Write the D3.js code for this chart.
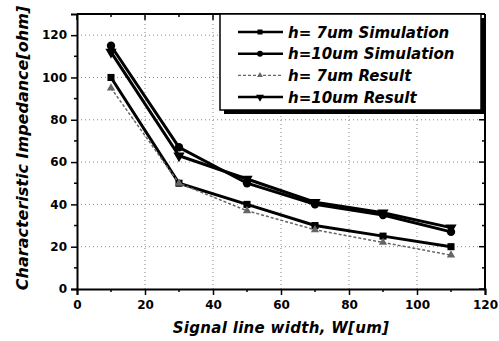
<!DOCTYPE html>
<html lang="en">
<head>
    <script src='https://d3js.org/d3.v7.min.js'></script>
    <style>
        body { margin: 0; background: #fff; }
        text { font-family: 'DejaVu Sans', sans-serif; font-weight: bold; }
    </style>
</head>
<body>
<script>
    // data
    var widths = [10, 30, 50, 70, 90, 110];
    var sim7 = [100, 50, 40, 30, 25, 20];
    var sim10 = [115, 67, 50, 40, 35, 27];
    var res7 = [95, 50, 37, 28, 22, 16];
    var res10 = [112, 63, 52, 41, 36, 29];
    var seriesNames = ['h= 7um Simulation', 'h=10um Simulation', 'h= 7um Result', 'h=10um Result'];
    var xTicks = [0, 20, 40, 60, 80, 100, 120];
    var yTicks = [0, 20, 40, 60, 80, 100, 120];

    var W = 499, H = 341;
    var m = {left: 77, right: 14, top: 14, bottom: 52};

    var svg = d3.select('body').append('svg').attr('width', W).attr('height', H);

    var x = d3.scaleLinear().domain([0, 120]).range([m.left, W - m.right]);
    var y = d3.scaleLinear().domain([0, 130]).range([H - m.bottom, m.top]);

    // dotted grid
    var grid = svg.append('g').attr('stroke', '#888').attr('stroke-width', 1).attr('stroke-dasharray', '1,3');
    grid.selectAll('.gx').data(xTicks.slice(1, -1)).join('line')
        .attr('x1', d => x(d)).attr('x2', d => x(d)).attr('y1', y(0)).attr('y2', y(130));
    grid.selectAll('.gy').data(yTicks.slice(1)).join('line')
        .attr('y1', d => y(d)).attr('y2', d => y(d)).attr('x1', x(0)).attr('x2', x(120));

    // axes
    var xAxis = d3.axisBottom(x).tickValues(xTicks).tickSize(6).tickPadding(5);
    var yAxis = d3.axisLeft(y).tickValues(yTicks).tickSize(6).tickPadding(4);
    var gx = svg.append('g').attr('transform', 'translate(0,' + y(0) + ')').call(xAxis);
    var gy = svg.append('g').attr('transform', 'translate(' + x(0) + ',0)').call(yAxis);
    [gx, gy].forEach(function(g) {
        g.select('.domain').attr('stroke-width', 2);
        g.selectAll('.tick line').attr('stroke-width', 1.5);
        g.selectAll('.tick text').style('font-size', '12px').attr('fill', '#000');
    });

    // minor ticks
    var xMinor = d3.range(10, 120, 20), yMinor = d3.range(10, 130, 20);
    svg.append('g').selectAll('line').data(xMinor).join('line')
        .attr('x1', d => x(d)).attr('x2', d => x(d)).attr('y1', y(0)).attr('y2', y(0) + 3)
        .attr('stroke', '#000').attr('stroke-width', 1.5);
    svg.append('g').selectAll('line').data(yMinor).join('line')
        .attr('y1', d => y(d)).attr('y2', d => y(d)).attr('x1', x(0) - 3).attr('x2', x(0))
        .attr('stroke', '#000').attr('stroke-width', 1.5);

    // top + right frame with inward ticks
    svg.append('line').attr('x1', x(0)).attr('x2', x(120)).attr('y1', y(130)).attr('y2', y(130))
        .attr('stroke', '#000').attr('stroke-width', 2);
    svg.append('line').attr('x1', x(120)).attr('x2', x(120)).attr('y1', y(130)).attr('y2', y(0))
        .attr('stroke', '#000').attr('stroke-width', 2);
    svg.append('g').selectAll('line').data(yTicks.concat(yMinor)).join('line')
        .attr('y1', d => y(d)).attr('y2', d => y(d))
        .attr('x1', d => x(120) - (d % 20 ? 3 : 6)).attr('x2', x(120))
        .attr('stroke', '#000').attr('stroke-width', 1.5);
    svg.append('g').selectAll('line').data(xTicks.concat(xMinor)).join('line')
        .attr('x1', d => x(d)).attr('x2', d => x(d))
        .attr('y1', y(130)).attr('y2', d => y(130) + (d % 20 ? 3 : 6))
        .attr('stroke', '#000').attr('stroke-width', 1.5);

    // series
    var series = [
        {name: seriesNames[0], vals: sim7, color: '#000', width: 3, dash: null, sym: d3.symbolSquare, size: 50, rot: 0},
        {name: seriesNames[1], vals: sim10, color: '#000', width: 3, dash: null, sym: d3.symbolCircle, size: 55, rot: 0},
        {name: seriesNames[2], vals: res7, color: '#666', width: 1.5, dash: '3,2', sym: d3.symbolTriangle, size: 30, rot: 0},
        {name: seriesNames[3], vals: res10, color: '#000', width: 3, dash: null, sym: d3.symbolTriangle, size: 55, rot: 180}
    ];

    var line = d3.line().x(d => x(d[0])).y(d => y(d[1]));

    series.forEach(function(s) {
        var pts = widths.map((w, i) => [w, s.vals[i]]);
        svg.append('path').datum(pts).attr('d', line)
            .attr('fill', 'none').attr('stroke', s.color).attr('stroke-width', s.width)
            .attr('stroke-dasharray', s.dash);
        svg.append('g').selectAll('path').data(pts).join('path')
            .attr('d', d3.symbol().type(s.sym).size(s.size))
            .attr('transform', d => 'translate(' + x(d[0]) + ',' + y(d[1]) + ') rotate(' + s.rot + ')')
            .attr('fill', s.color);
    });

    // legend
    var lg = svg.append('g');
    var lx0 = 220, ly0 = 14, lw = 261, lh = 96;
    lg.append('rect').attr('x', lx0 + 4).attr('y', ly0 + 4).attr('width', lw).attr('height', lh).attr('fill', '#000');
    lg.append('rect').attr('x', lx0).attr('y', ly0).attr('width', lw).attr('height', lh)
        .attr('fill', '#fff').attr('stroke', '#000').attr('stroke-width', 1.5);
    series.forEach(function(s, i) {
        var ry = 32 + i * 21.7;
        lg.append('line').attr('x1', 238).attr('x2', 283).attr('y1', ry).attr('y2', ry)
            .attr('stroke', s.color).attr('stroke-width', s.width === 3 ? 2.5 : 1.2)
            .attr('stroke-dasharray', s.dash);
        lg.append('path').attr('d', d3.symbol().type(s.sym).size(s.size * 0.5))
            .attr('transform', 'translate(260,' + ry + ') rotate(' + s.rot + ')').attr('fill', s.color);
        lg.append('text').attr('x', 288).attr('y', ry + 5.5).text(s.name)
            .style('font-size', '15px').style('font-style', 'italic');
    });

    // axis titles
    svg.append('text').attr('x', 281).attr('y', 333).attr('text-anchor', 'middle')
        .style('font-size', '15px').style('font-style', 'italic').style('letter-spacing', '0.3px')
        .text('Signal line width, W[um]');
    svg.append('text').attr('transform', 'translate(28,148) rotate(-90)').attr('text-anchor', 'middle')
        .style('font-size', '16px').style('font-style', 'italic')
        .text('Characteristic Impedance[ohm]');
</script>
</body>
</html>
